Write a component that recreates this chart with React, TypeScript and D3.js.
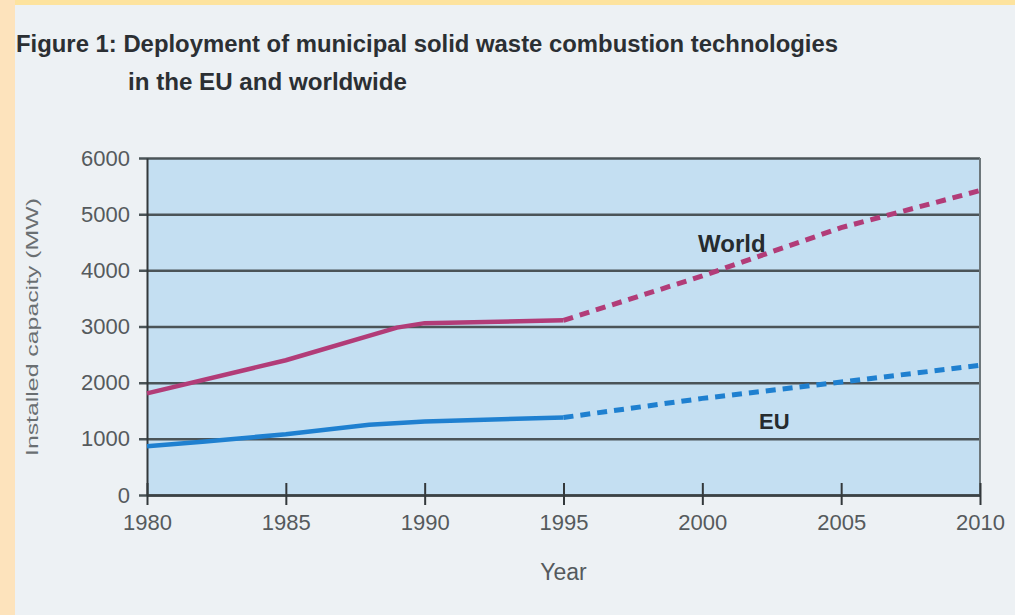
import React, { useEffect, useRef } from "react";
import * as d3 from "d3";

// ── Data ──────────────────────────────────────────────────────────────────
const worldYears = [1980, 1985, 1989, 1990, 1995];
const worldValues = [1810, 2400, 2980, 3060, 3110];
const worldProjYears = [1995, 2000, 2005, 2010];
const worldProjValues = [3110, 3900, 4760, 5420];

const euYears = [1980, 1982, 1985, 1988, 1990, 1995];
const euValues = [870, 950, 1080, 1250, 1310, 1380];
const euProjYears = [1995, 2000, 2005, 2010];
const euProjValues = [1380, 1720, 2010, 2310];

const yTicks = [0, 1000, 2000, 3000, 4000, 5000, 6000];
const xTicks = [1980, 1985, 1990, 1995, 2000, 2005, 2010];

type Pt = [number, number];
const zip = (a: number[], b: number[]): Pt[] => a.map((v, i) => [v, b[i]]);

const App: React.FC = () => {
    const svgRef = useRef<SVGSVGElement | null>(null);

    useEffect(() => {
        if (!svgRef.current) return;
        const W = 1015;
        const H = 615;
        const L = 147, R = 980, T = 158, B = 495;
        const font = "'Liberation Sans', Arial, sans-serif";

        const svg = d3.select(svgRef.current);
        svg.selectAll("*").remove();
        svg.attr("width", W).attr("height", H).attr("viewBox", `0 0 ${W} ${H}`);

        // background + yellow frame
        svg.append("rect").attr("width", W).attr("height", H).attr("fill", "#edf1f4");
        svg.append("rect").attr("width", W).attr("height", 5).attr("fill", "#fde39e");
        svg.append("rect").attr("width", 15).attr("height", H).attr("fill", "#fde3bc");

        // ── Title ──────────────────────────────────────────────────────────
        svg.append("text").attr("x", 16).attr("y", 52)
            .attr("font-family", font).attr("font-weight", "bold").attr("font-size", 23)
            .attr("fill", "#2b2f33")
            .attr("textLength", 822).attr("lengthAdjust", "spacingAndGlyphs")
            .text("Figure 1: Deployment of municipal solid waste combustion technologies");
        svg.append("text").attr("x", 128).attr("y", 90)
            .attr("font-family", font).attr("font-weight", "bold").attr("font-size", 23)
            .attr("fill", "#2b2f33")
            .attr("textLength", 279).attr("lengthAdjust", "spacingAndGlyphs")
            .text("in the EU and worldwide");

        // ── Scales ─────────────────────────────────────────────────────────
        const x = d3.scaleLinear().domain([1980, 2010]).range([L, R]);
        const y = d3.scaleLinear().domain([0, 6000]).range([B, T]);

        // plot fill
        svg.append("rect").attr("x", L).attr("y", T)
            .attr("width", R - L).attr("height", B - T).attr("fill", "#c4dff2");

        // ── Grid (horizontal) ──────────────────────────────────────────────
        const grid = svg.append("g").attr("transform", `translate(${L - 8},0)`)
            .call(d3.axisRight(y).tickValues(yTicks).tickSize(R - L + 8).tickFormat(() => ""));
        grid.select(".domain").remove();
        grid.selectAll("line").attr("stroke", "#4b5458").attr("stroke-width", 2.5);

        // right border
        svg.append("line").attr("x1", R).attr("x2", R).attr("y1", T).attr("y2", B)
            .attr("stroke", "#6d777b").attr("stroke-width", 2);

        // ── Y axis labels ──────────────────────────────────────────────────
        const yAxis = svg.append("g").attr("transform", `translate(${L},0)`)
            .call(d3.axisLeft(y).tickValues(yTicks).tickSize(0).tickPadding(17).tickFormat(d3.format("d")));
        yAxis.select(".domain").attr("stroke", "#33383b").attr("stroke-width", 2);
        yAxis.selectAll("text").attr("font-family", font).attr("font-size", 22).attr("fill", "#555a5d");

        // ── X axis ─────────────────────────────────────────────────────────
        const xTop = svg.append("g").attr("transform", `translate(0,${B})`)
            .call(d3.axisTop(x).tickValues(xTicks).tickSize(12).tickFormat(() => ""));
        xTop.select(".domain").remove();
        xTop.selectAll("line").attr("stroke", "#33383b").attr("stroke-width", 2);

        const xAxis = svg.append("g").attr("transform", `translate(0,${B})`)
            .call(d3.axisBottom(x).tickValues(xTicks).tickSize(10).tickSizeOuter(0).tickPadding(9).tickFormat(d3.format("d")));
        xAxis.select(".domain").attr("stroke", "#3b4245").attr("stroke-width", 2.5);
        xAxis.selectAll("line").attr("stroke", "#33383b").attr("stroke-width", 2);
        xAxis.selectAll("text").attr("font-family", font).attr("font-size", 22).attr("fill", "#555a5d");

        // axis titles
        svg.append("text").attr("x", (L + R) / 2).attr("y", 580).attr("text-anchor", "middle")
            .attr("font-family", font).attr("font-size", 23).attr("fill", "#555a5d").text("Year");
        svg.append("text")
            .attr("transform", `translate(38,327) rotate(-90)`)
            .attr("text-anchor", "middle")
            .attr("font-family", font).attr("font-size", 17).attr("fill", "#6a6f72")
            .attr("textLength", 258).attr("lengthAdjust", "spacingAndGlyphs")
            .text("Installed capacity (MW)");

        // ── Lines ──────────────────────────────────────────────────────────
        const line = d3.line<Pt>().x((d) => x(d[0])).y((d) => y(d[1]));
        const drawLine = (pts: Pt[], color: string, dashed: boolean) => {
            svg.append("path").datum(pts)
                .attr("fill", "none")
                .attr("stroke", color)
                .attr("stroke-width", dashed ? 5 : 4.5)
                .attr("stroke-dasharray", dashed ? "10,7" : null)
                .attr("d", line);
        };
        drawLine(zip(worldYears, worldValues), "#b23c78", false);
        drawLine(zip(worldProjYears, worldProjValues), "#b23c78", true);
        drawLine(zip(euYears, euValues), "#1f80d0", false);
        drawLine(zip(euProjYears, euProjValues), "#1f80d0", true);

        // ── Series labels ──────────────────────────────────────────────────
        svg.append("text").attr("x", 698).attr("y", 252)
            .attr("font-family", font).attr("font-weight", "bold").attr("font-size", 24)
            .attr("fill", "#262b2e").text("World");
        svg.append("text").attr("x", 759).attr("y", 429)
            .attr("font-family", font).attr("font-weight", "bold").attr("font-size", 22)
            .attr("fill", "#262b2e").text("EU");
    }, []);

    return (
        <div style={{ position: "absolute", left: 0, top: 0 }}>
            <svg ref={svgRef} style={{ display: "block" }} />
        </div>
    );
};

export default App;
